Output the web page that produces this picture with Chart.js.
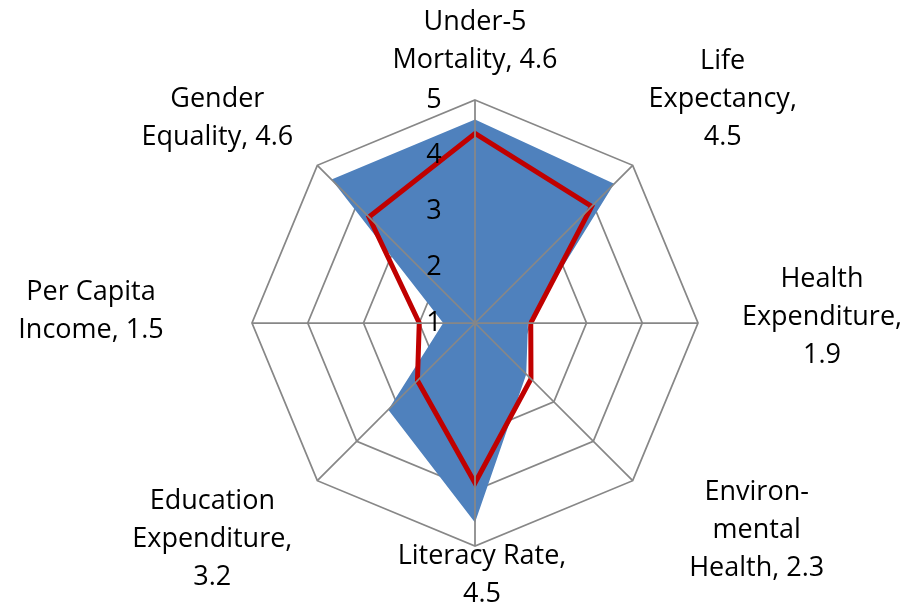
<!DOCTYPE html>
<html>
<head>
<meta charset="utf-8">
<title>Radar chart</title>
<script src="https://cdn.jsdelivr.net/npm/chart.js@4.4.1/dist/chart.umd.min.js"></script>
<style>
    html, body { margin: 0; padding: 0; background: #fff; }
    #wrap { width: 909px; height: 607px; position: relative; }
</style>
</head>
<body>
<div id="wrap"><canvas id="radarChart"></canvas></div>
<script>
// category labels (Excel data labels, already split into lines)
const categories = [
    ['Under-5', 'Mortality, 4.6'],
    ['Life', 'Expectancy,', '4.5'],
    ['Health', 'Expenditure,', '1.9'],
    ['Environ-', 'mental', 'Health, 2.3'],
    ['Literacy Rate,', '4.5'],
    ['Education', 'Expenditure,', '3.2'],
    ['Per Capita', 'Income, 1.5'],
    ['Gender', 'Equality, 4.6']
];
const blueValues = [4.65, 4.53, 1.95, 2.3, 4.58, 3.2, 1.57, 4.64];
const redValues = [4.4, 3.96, 2.0, 2.42, 3.87, 2.46, 2.0, 3.69];
const tickValues = [1, 2, 3, 4, 5];

const gridColor = '#878787';
const labelFont = '27px "Open Sans"';
const lineHeight = 38;
// where each label block sits, relative to the outer vertex of its axis
const labelOffsets = [
    [0, -59], [90, -66], [124, -6], [124, 50],
    [7, 29], [-105, 59], [-161, -12], [-100, -47]
];

// spokes, tick numbers and labels drawn on top of the filled area
const overlayPlugin = {
    id: 'overlay',
    afterDatasetsDraw(chart) {
        const r = chart.scales.r;
        const ctx = chart.ctx;
        ctx.save();

        ctx.strokeStyle = gridColor;
        ctx.lineWidth = 1.75;
        categories.forEach((c, i) => {
            const p = r.getPointPosition(i, r.drawingArea);
            ctx.beginPath();
            ctx.moveTo(r.xCenter, r.yCenter);
            ctx.lineTo(p.x, p.y);
            ctx.stroke();
        });

        ctx.fillStyle = '#000';
        ctx.font = labelFont;
        ctx.textAlign = 'center';
        ctx.textBaseline = 'middle';
        tickValues.forEach(v => {
            const y = r.yCenter - r.getDistanceFromCenterForValue(v);
            ctx.fillText(String(v), r.xCenter - 41, y);
        });

        categories.forEach((lines, i) => {
            const p = r.getPointPosition(i, r.drawingArea);
            const cx = p.x + labelOffsets[i][0];
            const cy = p.y + labelOffsets[i][1];
            lines.forEach((t, j) => {
                ctx.fillText(t, cx, cy + (j - (lines.length - 1) / 2) * lineHeight);
            });
        });
        ctx.restore();
    }
};

const ctx = document.getElementById('radarChart').getContext('2d');
new Chart(ctx, {
    type: 'radar',
    data: {
        labels: categories,
        datasets: [
            {
                label: 'Target',
                data: redValues,
                fill: false,
                borderColor: '#C00000',
                borderWidth: 5,
                borderJoinStyle: 'miter',
                pointRadius: 0,
                order: 0
            },
            {
                label: 'Score',
                data: blueValues,
                fill: true,
                backgroundColor: '#4F81BD',
                borderWidth: 0,
                pointRadius: 0,
                order: 1
            }
        ]
    },
    options: {
        responsive: true,
        maintainAspectRatio: false,
        animation: false,
        layout: {
            padding: { top: 100, bottom: 61, left: 100, right: 59 }
        },
        plugins: {
            legend: { display: false },
            tooltip: { enabled: false }
        },
        scales: {
            r: {
                min: 1,
                max: 5,
                ticks: { display: false, stepSize: 1 },
                pointLabels: { display: false },
                angleLines: { display: false },
                grid: { color: gridColor, lineWidth: 1.75 }
            }
        }
    },
    plugins: [overlayPlugin]
});
</script>
</body>
</html>
